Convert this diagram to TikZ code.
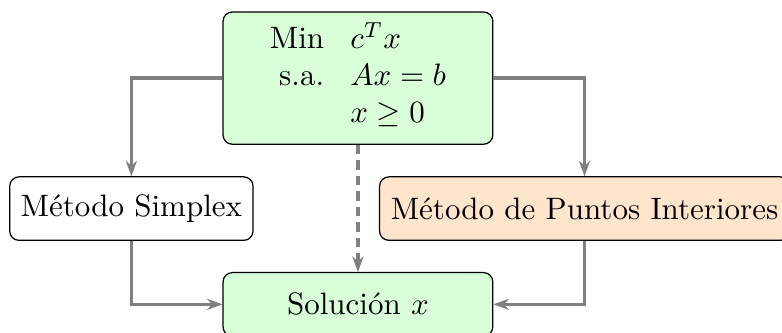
\documentclass[tikz,border=0pt]{standalone}
\usepackage{amsmath}
\usepackage{amssymb}
\usetikzlibrary{
    positioning,
    arrows.meta
}
\tikzset{
    >={Stealth[length=5pt, width=3.6pt]},
    caja/.style={
        draw,
        rounded corners=3pt,
        minimum height=0.72cm,
        inner sep=3pt
    },
    flecha/.style={
        ->,
        gray,
        line width=1.1pt
    }
}

\begin{document}
\begin{tikzpicture}

    \useasboundingbox (0,0) rectangle (8.87,-3.775);

    % Problema
    \node[caja, fill=green!15, minimum width=3.06cm, minimum height=1.5cm]
        (prob) at (4.06,-0.886)
        {\begin{tabular}{r@{\hspace{8.5pt}}l}
            Min  & $c^Tx$  \\
            s.a. & $Ax=b$  \\
                 & $x\geq 0$
        \end{tabular}};

    % Metodos
    \node[caja, minimum width=2.76cm]                   (simplex)  at (1.49,-2.366) {Método Simplex};
    \node[caja, fill=orange!20, minimum width=4.65cm]   (interior) at (6.63,-2.366) {Método de Puntos Interiores};

    % Solucion
    \node[caja, fill=green!15, minimum width=3.06cm]    (sol)      at (4.06,-3.452) {Solución $x$};

    % Conexiones
    \draw[flecha] (prob.west) -| (simplex.north);
    \draw[flecha] (prob.east) -| (interior.north);
    \draw[flecha, dash pattern=on 3pt off 2pt] (prob.south) -- (sol.north);
    \draw[flecha] (simplex.south) |- (sol.west);
    \draw[flecha] (interior.south) |- (sol.east);

\end{tikzpicture}
\end{document}
